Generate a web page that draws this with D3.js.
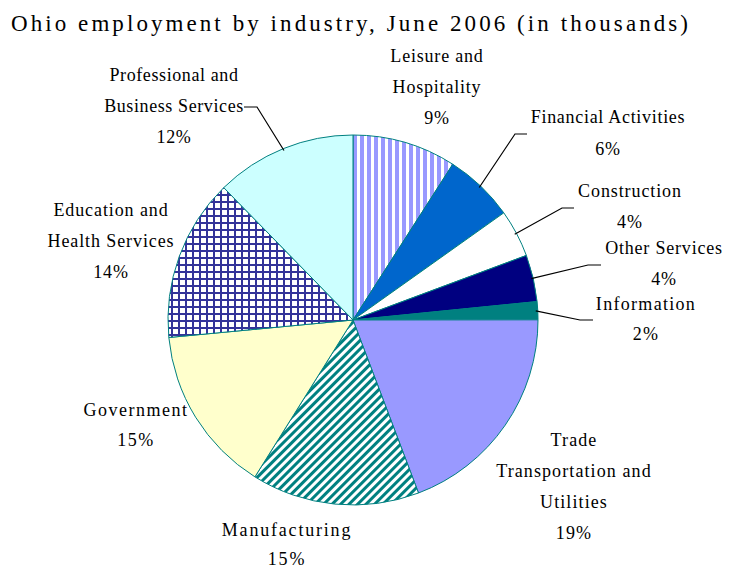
<!DOCTYPE html>
<html><head><meta charset="utf-8">
<script src="https://cdn.jsdelivr.net/npm/d3@7"></script>
<style>html,body{margin:0;padding:0;background:#fff;}svg{display:block;}
text{font-family:"Liberation Serif","Times New Roman",serif;}</style>
</head><body>
<svg id="chart" width="729" height="569"></svg>
<script>
// Data (thousands of jobs)
const categories = ["Leisure and Hospitality","Financial Activities","Construction","Other Services","Information","Trade Transportation and Utilities","Manufacturing","Government","Education and Health Services","Professional and Business Services"];
const values = [495, 333, 227, 223, 86, 1051, 800, 797, 775, 672];
const labelLines = [["Leisure and","Hospitality"],["Financial Activities"],["Construction"],["Other Services"],["Information"],["Trade","Transportation and","Utilities"],["Manufacturing"],["Government"],["Education and","Health Services"],["Professional and","Business Services"]];
const titleText = "Ohio employment by industry, June 2006 (in thousands)";

// Styles / layout
const fills = ["url(#vstripe)","#0066CC","#FFFFFF","#000080","#008080","#9999FF","url(#diag)","#FFFFCC","url(#grid)","#CCFFFF"];
const labelPos = [[437,62],[608,123],[630,197],[664,254],[646,310],[574,446],[287,536],[136,416],[111,216],[174,81]];
const pctGap = [31,32,31,31,30,31,29,30,31,31];
const spacing = [0.8,0.7,0.9,0.8,1.3,1.1,1.8,1.5,0.9,0.6];
const leaders = [null,[[515,134],[527,134]],[[562,208],[574,208]],[[588,265],[601,265]],[[580,320],[593,320]],null,null,null,null,[[257,107],[244,107]]];

const svg = d3.select("#chart");
const defs = svg.append("defs");
const p1 = defs.append("pattern").attr("id","vstripe").attr("patternUnits","userSpaceOnUse").attr("width",7).attr("height",7);
p1.append("rect").attr("width",7).attr("height",7).attr("fill","#fff");
p1.append("rect").attr("x",0).attr("width",4).attr("height",7).attr("fill","#9999FF");
const p2 = defs.append("pattern").attr("id","diag").attr("patternUnits","userSpaceOnUse").attr("width",6).attr("height",6).attr("patternTransform","rotate(45)");
p2.append("rect").attr("width",6).attr("height",6).attr("fill","#fff");
p2.append("rect").attr("width",3).attr("height",6).attr("fill","#008080");
const p3 = defs.append("pattern").attr("id","grid").attr("patternUnits","userSpaceOnUse").attr("width",7).attr("height",7);
p3.append("rect").attr("width",7).attr("height",7).attr("fill","#fff");
p3.append("rect").attr("width",2).attr("height",7).attr("fill","#333399");
p3.append("rect").attr("width",7).attr("height",2).attr("fill","#333399");

svg.append("text").attr("x",11).attr("y",31).attr("font-size",23)
  .attr("textLength",677).attr("lengthAdjust","spacing").attr("fill","#000").text(titleText);

const cx = 353, cy = 320, R = 185;
const total = d3.sum(values);
const pie = d3.pie().sort(null).value(d=>d)(values);
const arc = d3.arc().innerRadius(0).outerRadius(R);
const g = svg.append("g").attr("transform",`translate(${cx},${cy})`);
g.selectAll("path").data(pie).join("path").attr("d",arc)
  .attr("fill",(d,i)=>fills[i]).attr("stroke","#008080").attr("stroke-width",1);

// leader lines
pie.forEach((d,i)=>{
  if(!leaders[i]) return;
  const a = (d.startAngle+d.endAngle)/2;
  const sx = cx + 183*Math.sin(a), sy = cy - 183*Math.cos(a);
  const pts = [[sx,sy]].concat(leaders[i]);
  svg.append("path").attr("d",d3.line()(pts)).attr("fill","none").attr("stroke","#000").attr("stroke-width",1.2);
});

// labels
const fmt = v => Math.round(v/total*100) + "%";
values.forEach((v,i)=>{
  const [x,y] = labelPos[i];
  const lines = labelLines[i].concat([fmt(v)]);
  const t = svg.append("text").attr("font-size",18).attr("letter-spacing",spacing[i]).attr("text-anchor","middle").attr("fill","#000");
  lines.forEach((s,j)=>{
    t.append("tspan").attr("x",x).attr("y",y + j*pctGap[i]).text(s);
  });
});
</script>
</body></html>
